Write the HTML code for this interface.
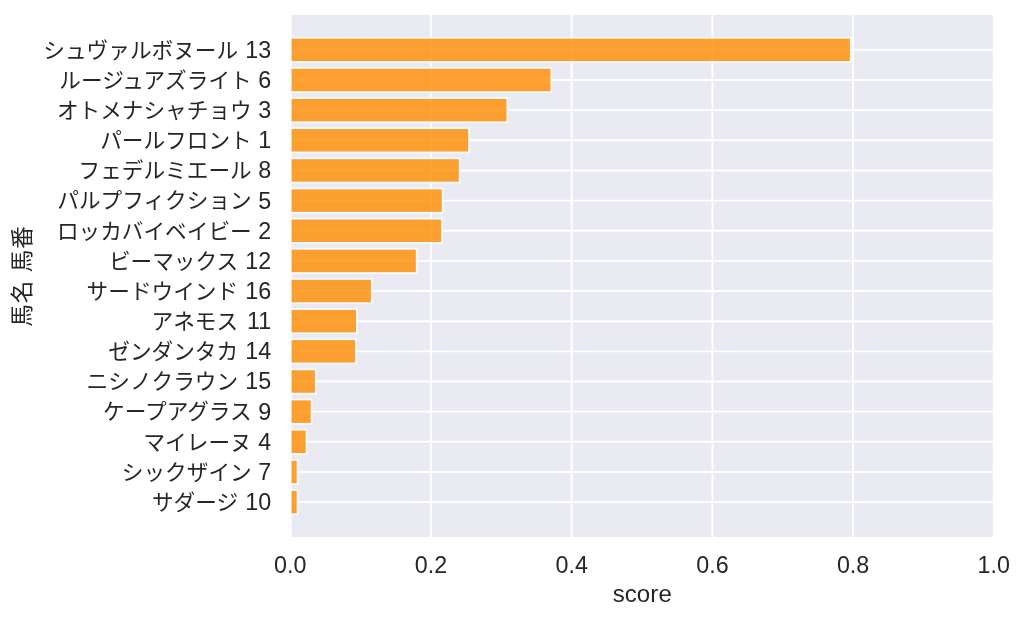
<!DOCTYPE html>
<html lang="ja"><head><meta charset="utf-8"><title>score</title>
<style>
html,body{margin:0;padding:0;background:#fff;}
body{width:1024px;height:620px;overflow:hidden;}
svg{display:block;}
text{font-family:"Liberation Sans","Noto Sans CJK JP",sans-serif;fill:#262626;}
.d{font-size:23.3px;}
</style></head><body>
<svg width="1024" height="620" viewBox="0 0 1024 620">
<rect x="0" y="0" width="1024" height="620" fill="#ffffff"/>
<rect x="290.7" y="14.9" width="703.10" height="522.10" fill="#eaeaf2"/>
<g stroke="#ffffff" stroke-width="1.9" stroke-linecap="butt">
<line x1="290.70" y1="14.9" x2="290.70" y2="537.0"/>
<line x1="431.00" y1="14.9" x2="431.00" y2="537.0"/>
<line x1="571.70" y1="14.9" x2="571.70" y2="537.0"/>
<line x1="712.40" y1="14.9" x2="712.40" y2="537.0"/>
<line x1="853.10" y1="14.9" x2="853.10" y2="537.0"/>
<line x1="993.80" y1="14.9" x2="993.80" y2="537.0"/>
<line x1="290.7" y1="49.85" x2="993.8" y2="49.85"/>
<line x1="290.7" y1="80.00" x2="993.8" y2="80.00"/>
<line x1="290.7" y1="110.15" x2="993.8" y2="110.15"/>
<line x1="290.7" y1="140.30" x2="993.8" y2="140.30"/>
<line x1="290.7" y1="170.45" x2="993.8" y2="170.45"/>
<line x1="290.7" y1="200.60" x2="993.8" y2="200.60"/>
<line x1="290.7" y1="230.75" x2="993.8" y2="230.75"/>
<line x1="290.7" y1="260.90" x2="993.8" y2="260.90"/>
<line x1="290.7" y1="291.05" x2="993.8" y2="291.05"/>
<line x1="290.7" y1="321.20" x2="993.8" y2="321.20"/>
<line x1="290.7" y1="351.35" x2="993.8" y2="351.35"/>
<line x1="290.7" y1="381.50" x2="993.8" y2="381.50"/>
<line x1="290.7" y1="411.65" x2="993.8" y2="411.65"/>
<line x1="290.7" y1="441.80" x2="993.8" y2="441.80"/>
<line x1="290.7" y1="471.95" x2="993.8" y2="471.95"/>
<line x1="290.7" y1="502.10" x2="993.8" y2="502.10"/>
</g>
<clipPath id="ax"><rect x="290.7" y="14.9" width="703.10" height="522.10"/></clipPath>
<g clip-path="url(#ax)" fill="#ff8c00" stroke="#ffffff" stroke-width="1.7" opacity="0.8">
<rect x="290.7" y="37.75" width="560.05" height="24.2"/>
<rect x="290.7" y="67.90" width="260.65" height="24.2"/>
<rect x="290.7" y="98.05" width="216.65" height="24.2"/>
<rect x="290.7" y="128.20" width="178.35" height="24.2"/>
<rect x="290.7" y="158.35" width="168.95" height="24.2"/>
<rect x="290.7" y="188.50" width="151.95" height="24.2"/>
<rect x="290.7" y="218.65" width="151.35" height="24.2"/>
<rect x="290.7" y="248.80" width="125.95" height="24.2"/>
<rect x="290.7" y="278.95" width="81.05" height="24.2"/>
<rect x="290.7" y="309.10" width="66.15" height="24.2"/>
<rect x="290.7" y="339.25" width="65.25" height="24.2"/>
<rect x="290.7" y="369.40" width="25.05" height="24.2"/>
<rect x="290.7" y="399.55" width="20.85" height="24.2"/>
<rect x="290.7" y="429.70" width="15.85" height="24.2"/>
<rect x="290.7" y="459.85" width="6.85" height="24.2"/>
<rect x="290.7" y="490.00" width="6.85" height="24.2"/>
</g>
<g font-size="21.65" text-anchor="end">
<text x="238.1" y="57.65">シュヴァルボヌール</text><text class="d" x="271.2" y="57.75">13</text>
<text x="251.7" y="87.80">ルージュアズライト</text><text class="d" x="271.2" y="87.90">6</text>
<text x="251.7" y="117.95">オトメナシャチョウ</text><text class="d" x="271.2" y="118.05">3</text>
<text x="251.7" y="148.10">パールフロント</text><text class="d" x="271.2" y="148.20">1</text>
<text x="251.7" y="178.25">フェデルミエール</text><text class="d" x="271.2" y="178.35">8</text>
<text x="251.7" y="208.40">パルプフィクション</text><text class="d" x="271.2" y="208.50">5</text>
<text x="251.7" y="238.55">ロッカバイベイビー</text><text class="d" x="271.2" y="238.65">2</text>
<text x="238.1" y="268.70">ビーマックス</text><text class="d" x="271.2" y="268.80">12</text>
<text x="238.1" y="298.85">サードウインド</text><text class="d" x="271.2" y="298.95">16</text>
<text x="238.1" y="329.00">アネモス</text><text class="d" x="271.2" y="329.10">11</text>
<text x="238.1" y="359.15">ゼンダンタカ</text><text class="d" x="271.2" y="359.25">14</text>
<text x="238.1" y="389.30">ニシノクラウン</text><text class="d" x="271.2" y="389.40">15</text>
<text x="251.7" y="419.45">ケープアグラス</text><text class="d" x="271.2" y="419.55">9</text>
<text x="251.7" y="449.60">マイレーヌ</text><text class="d" x="271.2" y="449.70">4</text>
<text x="251.7" y="479.75">シックザイン</text><text class="d" x="271.2" y="479.85">7</text>
<text x="238.1" y="509.90">サダージ</text><text class="d" x="271.2" y="510.00">10</text>
</g>
<g text-anchor="middle">
<text class="d" x="290.30" y="573.4">0.0</text>
<text class="d" x="431.00" y="573.4">0.2</text>
<text class="d" x="571.70" y="573.4">0.4</text>
<text class="d" x="712.40" y="573.4">0.6</text>
<text class="d" x="853.10" y="573.4">0.8</text>
<text class="d" x="993.80" y="573.4">1.0</text>
<text x="642.25" y="602.3" font-size="24.0" letter-spacing="0.1">score</text>
<text transform="translate(30.0,276.0) rotate(-90)" font-size="22.6" letter-spacing="1">馬名 馬番</text>
</g></svg></body></html>
